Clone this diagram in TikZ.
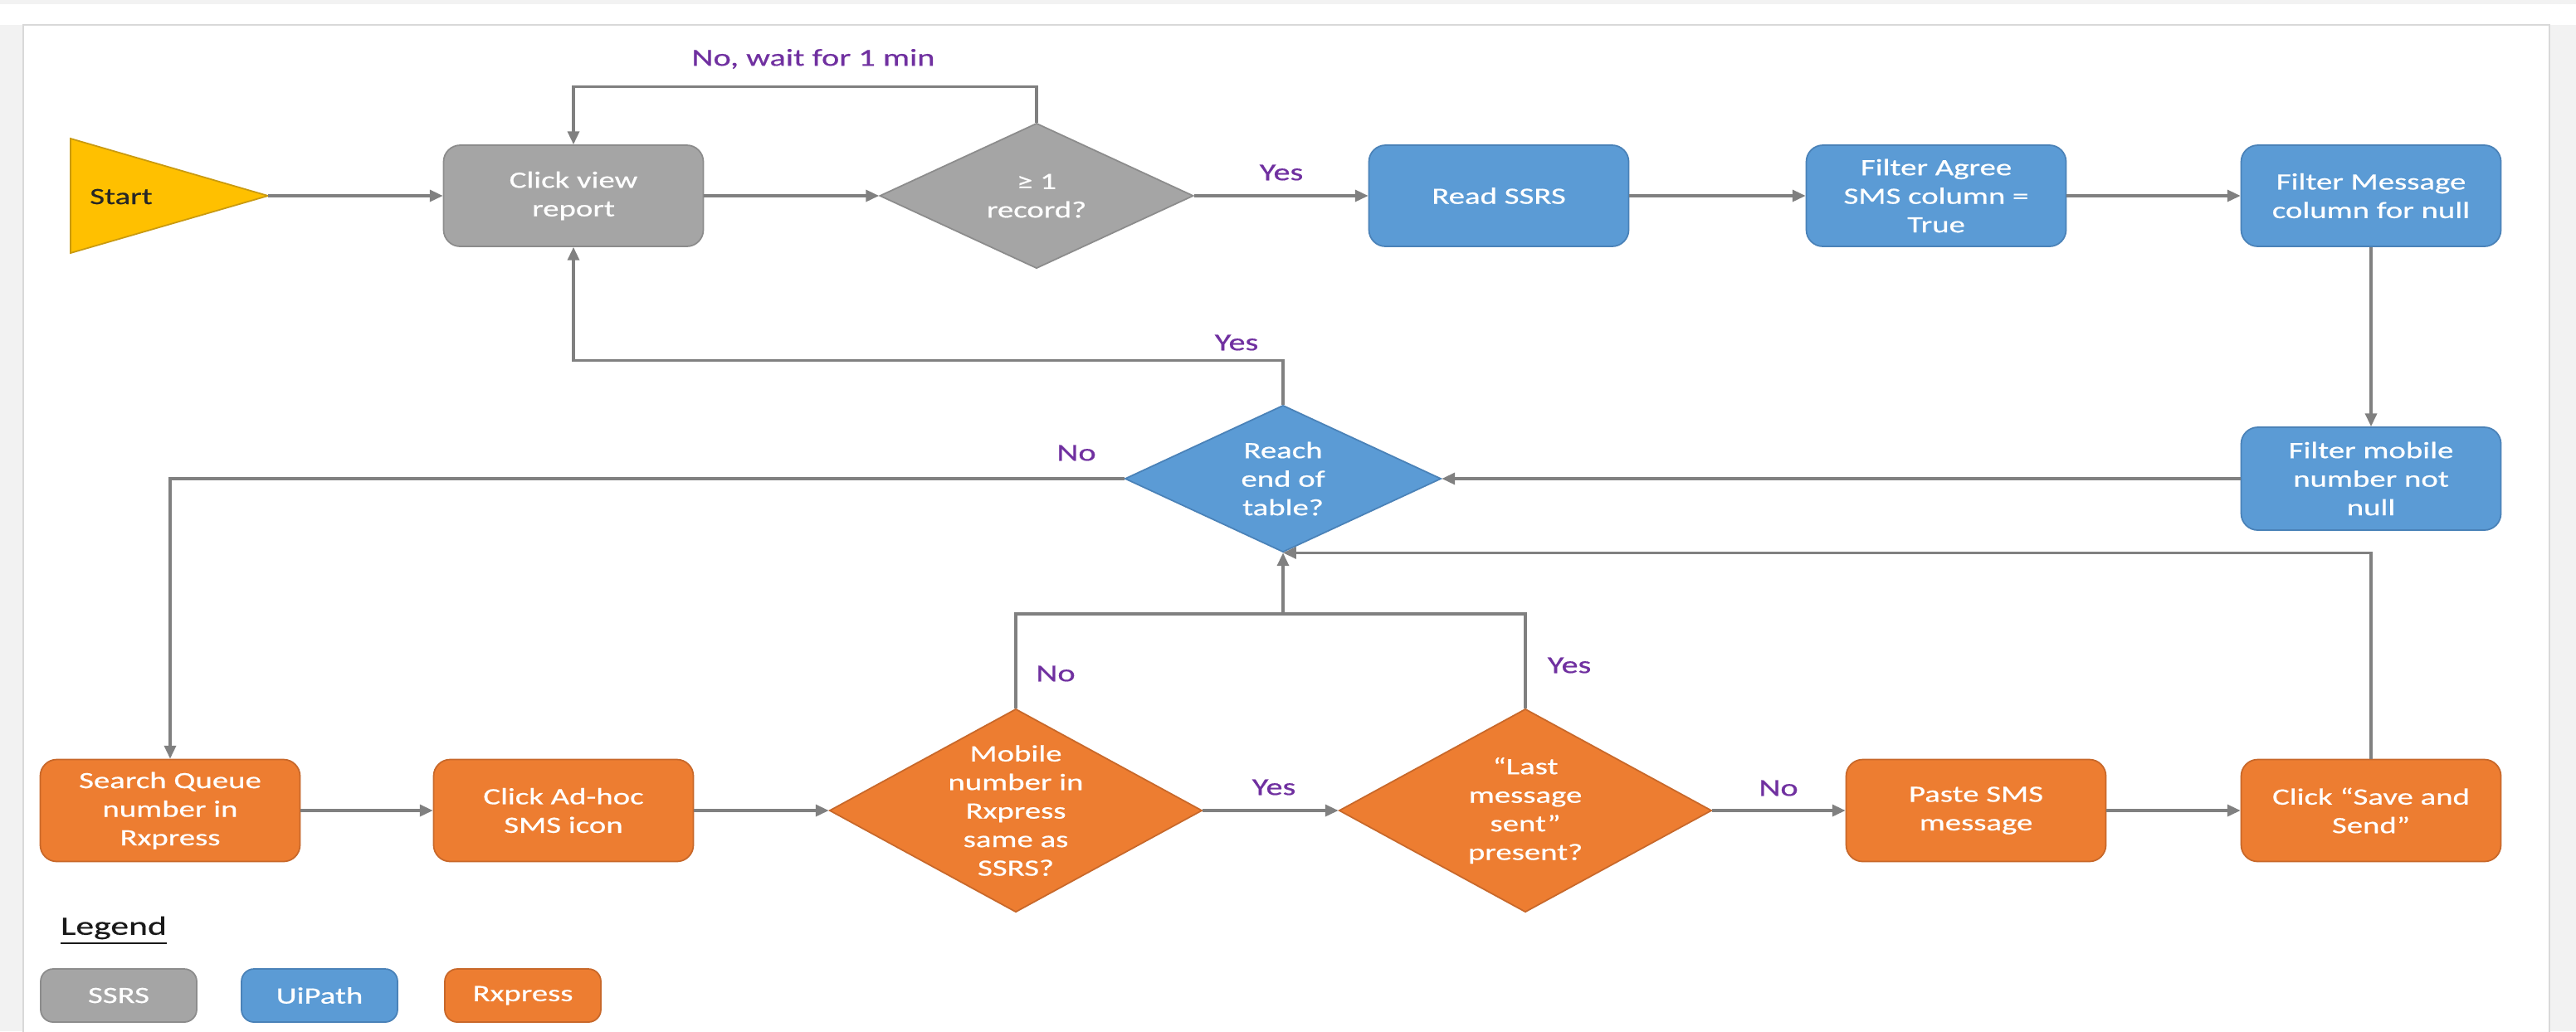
\documentclass[tikz,border=0pt]{standalone}
\usepackage{fontspec}
\setmainfont{Carlito}[FakeStretch=1.38, FakeBold=0.6]
\usetikzlibrary{shapes.geometric, arrows.meta}

\definecolor{pagegray}{HTML}{F2F2F2}
\definecolor{panelline}{HTML}{D9D9D9}
\definecolor{ssrsgray}{HTML}{A5A5A5}
\definecolor{ssrsedge}{HTML}{8C8C8C}
\definecolor{uiblue}{HTML}{5B9BD5}
\definecolor{uiedge}{HTML}{4A82B8}
\definecolor{rxorange}{HTML}{ED7D31}
\definecolor{rxedge}{HTML}{C8682A}
\definecolor{startyellow}{HTML}{FFC000}
\definecolor{startedge}{HTML}{C99A10}
\definecolor{flowgray}{HTML}{808080}
\definecolor{answerpurple}{HTML}{7030A0}

\newcommand{\boxfont}{\fontsize{8}{9.8}\selectfont}
\newcommand{\answerfont}{\fontsize{8.3}{10}\selectfont}
\newcommand{\legendfont}{\fontsize{9}{11}\selectfont}

\begin{document}
\begin{tikzpicture}[>={Triangle[length=4.5pt,width=4pt]},
    box/.style={rectangle, rounded corners=2mm, minimum width=3.13cm, minimum height=1.22cm,
        align=center, text=white, line width=0.5pt, font=\boxfont},
    decision/.style={diamond, inner sep=0pt, align=center, text=white, line width=0.5pt, font=\boxfont},
    ssrs/.style={fill=ssrsgray, draw=ssrsedge},
    uipath/.style={fill=uiblue, draw=uiedge},
    rxpress/.style={fill=rxorange, draw=rxedge},
    flow/.style={draw=flowgray, line width=0.9pt},
    answer/.style={text=answerpurple, font=\answerfont}]

    % Page and panel
    \useasboundingbox (0,0) rectangle (31.04,-12.43);
    \fill[pagegray] (0,0) rectangle (31.04,-12.43);
    \fill[white] (0,-0.05) rectangle (31.04,-0.30);
    \filldraw[fill=white, draw=panelline, line width=0.6pt] (0.28,-0.30) rectangle (30.72,-12.70);

    % Start
    \filldraw[fill=startyellow, draw=startedge, line width=0.5pt] (0.85,-1.67) -- (3.23,-2.36) -- (0.85,-3.05) -- cycle;
    \coordinate (starttip) at (3.23,-2.36);
    \node[font=\boxfont, text=black!85] (start) at (1.46,-2.37) {Start};

    % Top row
    \node[box, ssrs] (view) at (6.91,-2.36) {Click view\\report};
    \node[decision, ssrs, aspect=2.16, minimum width=3.78cm, minimum height=1.75cm] (rec) at (12.49,-2.36) {≥ 1\\record?};
    \node[box, uipath] (read) at (18.06,-2.36) {Read SSRS};
    \node[box, uipath] (agree) at (23.33,-2.36) {Filter Agree\\SMS column =\\True};
    \node[box, uipath] (msg) at (28.57,-2.36) {Filter Message\\column for null};

    % Middle row
    \node[box, uipath, minimum height=1.24cm] (mfilter) at (28.57,-5.77) {Filter mobile\\number not\\null};
    \node[decision, uipath, aspect=2.15, minimum width=3.81cm, minimum height=1.77cm] (reach) at (15.46,-5.77) {Reach\\end of\\table?};

    % Bottom row
    \node[box, rxpress, minimum height=1.23cm] (search) at (2.05,-9.77) {Search Queue\\number in\\Rxpress};
    \node[box, rxpress, minimum height=1.23cm] (adhoc) at (6.79,-9.77) {Click Ad-hoc\\SMS icon};
    \node[decision, rxpress, aspect=1.83, inner sep=-2mm, minimum width=4.49cm, minimum height=2.45cm] (same) at (12.24,-9.77) {Mobile\\number in\\Rxpress\\same as\\SSRS?};
    \node[decision, rxpress, aspect=1.83, inner sep=-2mm, minimum width=4.49cm, minimum height=2.45cm] (last) at (18.38,-9.77) {“Last\\message\\sent”\\present?};
    \node[box, rxpress, minimum height=1.23cm] (paste) at (23.81,-9.77) {Paste SMS\\message};
    \node[box, rxpress, minimum height=1.23cm] (save) at (28.57,-9.77) {Click “Save and\\Send”};

    % Connectors, top row
    \draw[flow, ->] (starttip) -- (view.west);
    \draw[flow, ->] (view.east) -- (rec.west);
    \draw[flow, ->] (rec.east) -- (read.west);
    \draw[flow, ->] (read.east) -- (agree.west);
    \draw[flow, ->] (agree.east) -- (msg.west);
    \draw[flow, ->] (rec.north) -- ++(0,0.43) -| (view.north);
    \draw[flow, ->] (msg.south) -- (mfilter.north);

    % Connectors, loop over the table
    \draw[flow, ->] (mfilter.west) -- (reach.east);
    \draw[flow, ->] (reach.north) -- ++(0,0.53) -| (view.south);
    \draw[flow, ->] (reach.west) -| (search.north);

    % Connectors, bottom row
    \draw[flow, ->] (search.east) -- (adhoc.west);
    \draw[flow, ->] (adhoc.east) -- (same.west);
    \draw[flow, ->] (same.east) -- (last.west);
    \draw[flow, ->] (last.east) -- (paste.west);
    \draw[flow, ->] (paste.east) -- (save.west);
    \coordinate (join) at (15.46,-7.40);
    \draw[flow] (same.north) |- (join) -| (last.north);
    \draw[flow, ->] (join) -- (reach.south);
    \draw[flow, ->] (save.north) |- (reach.south);

    % Answers
    \node[answer] (waitlbl) at (9.80,-0.71) {No, wait for 1 min};
    \node[answer] (recyes) at (15.44,-2.08) {Yes};
    \node[answer] (reachyes) at (14.90,-4.13) {Yes};
    \node[answer] (reachno) at (12.97,-5.46) {No};
    \node[answer] (sameno) at (12.72,-8.12) {No};
    \node[answer] (lastyes) at (18.91,-8.02) {Yes};
    \node[answer] (sameyes) at (15.35,-9.49) {Yes};
    \node[answer] (lastno) at (21.43,-9.50) {No};

    % Legend
    \node[font=\legendfont, text=black!90] (legend) at (1.37,-11.22) {\underline{Legend}};
    \node[box, ssrs, rounded corners=1.5mm, minimum width=1.88cm, minimum height=0.64cm] (keyssrs) at (1.43,-12.00) {SSRS};
    \node[box, uipath, rounded corners=1.5mm, minimum width=1.88cm, minimum height=0.64cm] (keyuipath) at (3.85,-12.00) {UiPath};
    \node[box, rxpress, rounded corners=1.5mm, minimum width=1.88cm, minimum height=0.64cm] (keyrxpress) at (6.30,-12.00) {Rxpress};
\end{tikzpicture}
\end{document}
